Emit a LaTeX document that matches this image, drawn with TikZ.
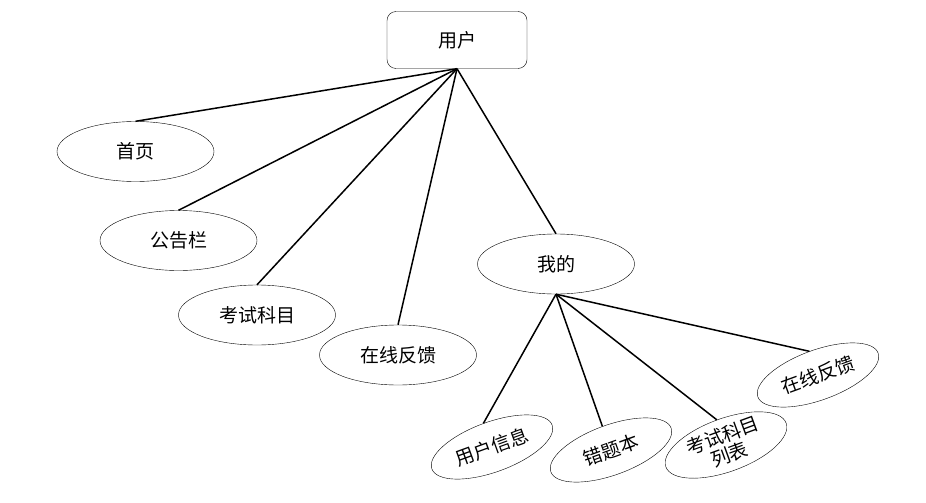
\documentclass[tikz,border=0pt]{standalone}
\usepackage{fontspec}
\newfontfamily\cjk{Noto Sans CJK SC}
\usepackage{tikz}
\usetikzlibrary{shapes.geometric}

\begin{document}
\begin{tikzpicture}[x=1pt, y=-1pt,
      usr/.style={draw, rounded corners=9pt, inner sep=0pt,
                  minimum width=140pt, minimum height=57pt,
                  font=\cjk\fontsize{19}{22}\selectfont},
      ent/.style={draw, ellipse, inner sep=0pt,
                  minimum width=157pt, minimum height=60pt,
                  font=\cjk\fontsize{19}{22}\selectfont},
      sub/.style={ent, minimum width=128pt, minimum height=50pt,
                  rotate=20, align=center},
      ln/.style={line width=1.5pt, black}
  ]
    \useasboundingbox (0,0) rectangle (926,503);
    % top level
    \node[usr] (yh) at (457,40)    {用户};
    \node[ent] (sy) at (135.5,151.5) {首页};
    \node[ent] (gg) at (178.5,240.5) {公告栏};
    \node[ent] (ks) at (257,315)   {考试科目};
    \node[ent] (fk) at (398,355)   {在线反馈};
    \node[ent] (wd) at (556,264)   {我的};
    % under wd
    \node[sub] (xx)  at (492,447) {用户信息};
    \node[sub] (ct)  at (611,450) {错题本};
    \node[sub, font=\cjk\fontsize{19}{20}\selectfont] (lb) at (726,445) {考试科目\\列表};
    \node[sub] (fk2) at (818,375) {在线反馈};
    \draw[ln] (yh.south)--(sy.north); \draw[ln] (yh.south)--(gg.north);
    \draw[ln] (yh.south)--(ks.north); \draw[ln] (yh.south)--(fk.north);
    \draw[ln] (yh.south)--(wd.north);
    \draw[ln] (wd.south)--(xx.north); \draw[ln] (wd.south)--(ct.north);
    \draw[ln] (wd.south)--(lb.north); \draw[ln] (wd.south)--(fk2.north);
  \end{tikzpicture}
\end{document}
